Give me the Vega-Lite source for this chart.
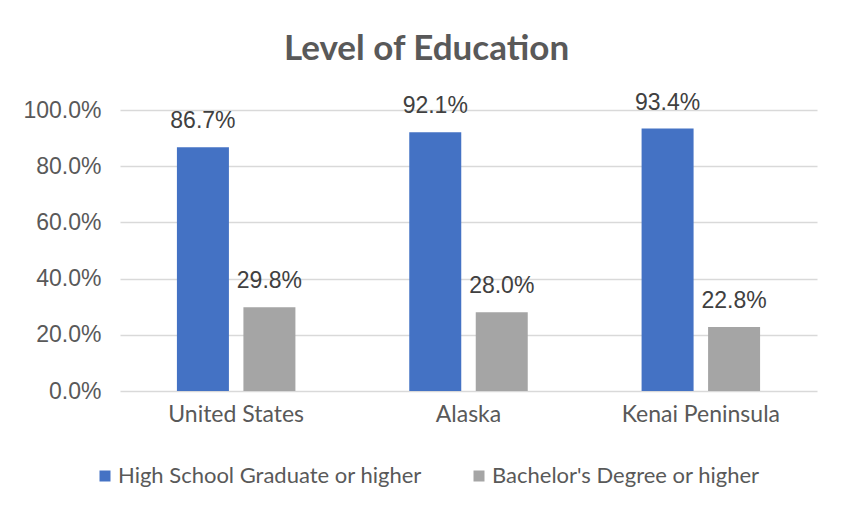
{
  "$schema": "https://vega.github.io/schema/vega-lite/v6.json",
  "width": 697,
  "height": 281,
  "autosize": {"type": "none"},
  "padding": {"left": 120, "top": 110, "right": 35, "bottom": 127},
  "background": "white",
  "title": {
    "text": "Level of Education",
    "font": "Lato",
    "fontSize": 35,
    "fontWeight": "bold",
    "color": "#595959",
    "anchor": "middle",
    "dx": -42,
    "offset": 25
  },
  "data": {
    "values": [
      {"region": "United States", "level": "High School Graduate or higher", "value": 0.867},
      {"region": "United States", "level": "Bachelor's Degree or higher", "value": 0.298},
      {"region": "Alaska", "level": "High School Graduate or higher", "value": 0.921},
      {"region": "Alaska", "level": "Bachelor's Degree or higher", "value": 0.28},
      {"region": "Kenai Peninsula", "level": "High School Graduate or higher", "value": 0.934},
      {"region": "Kenai Peninsula", "level": "Bachelor's Degree or higher", "value": 0.228}
    ]
  },
  "encoding": {
    "x": {
      "field": "region",
      "type": "nominal",
      "sort": ["United States", "Alaska", "Kenai Peninsula"],
      "scale": {"paddingInner": 0.49, "paddingOuter": 0.245},
      "axis": {
        "title": null,
        "labelAngle": 0,
        "labelFont": "Lato",
        "labelFontSize": 23,
        "labelColor": "#595959",
        "labelPadding": 12,
        "ticks": false,
        "domain": false
      }
    },
    "xOffset": {
      "field": "level",
      "type": "nominal",
      "sort": ["High School Graduate or higher", "Bachelor's Degree or higher"],
      "scale": {"paddingInner": 0.218, "paddingOuter": 0}
    },
    "y": {
      "field": "value",
      "type": "quantitative",
      "scale": {"domain": [0, 1], "nice": false},
      "axis": {
        "title": null,
        "format": ".1%",
        "values": [0, 0.2, 0.4, 0.6, 0.8, 1.0],
        "labelFont": "Liberation Sans",
        "labelFontSize": 23,
        "labelColor": "#595959",
        "labelPadding": 19,
        "ticks": false,
        "domain": false,
        "grid": true,
        "gridColor": "#D9D9D9",
        "gridWidth": 1.3
      }
    }
  },
  "layer": [
    {
      "mark": {"type": "bar"},
      "encoding": {
        "color": {
          "field": "level",
          "type": "nominal",
          "sort": ["High School Graduate or higher", "Bachelor's Degree or higher"],
          "scale": {
            "domain": ["High School Graduate or higher", "Bachelor's Degree or higher"],
            "range": ["#4472C4", "#A5A5A5"]
          },
          "legend": {
            "title": null,
            "orient": "none",
            "direction": "horizontal",
            "legendX": -26,
            "legendY": 355,
            "symbolType": "square",
            "symbolSize": 121,
            "symbolStrokeWidth": 0,
            "symbolOpacity": 1,
            "labelFont": "Lato",
            "labelFontSize": 22,
            "labelColor": "#595959",
            "labelOffset": 2,
            "labelLimit": 400,
            "columnPadding": 46
          }
        }
      }
    },
    {
      "mark": {
        "type": "text",
        "baseline": "alphabetic",
        "dy": -19,
        "font": "Liberation Sans",
        "fontSize": 23,
        "color": "#404040"
      },
      "encoding": {
        "text": {"field": "value", "type": "quantitative", "format": ".1%"}
      }
    }
  ],
  "config": {
    "view": {"stroke": null}
  }
}
